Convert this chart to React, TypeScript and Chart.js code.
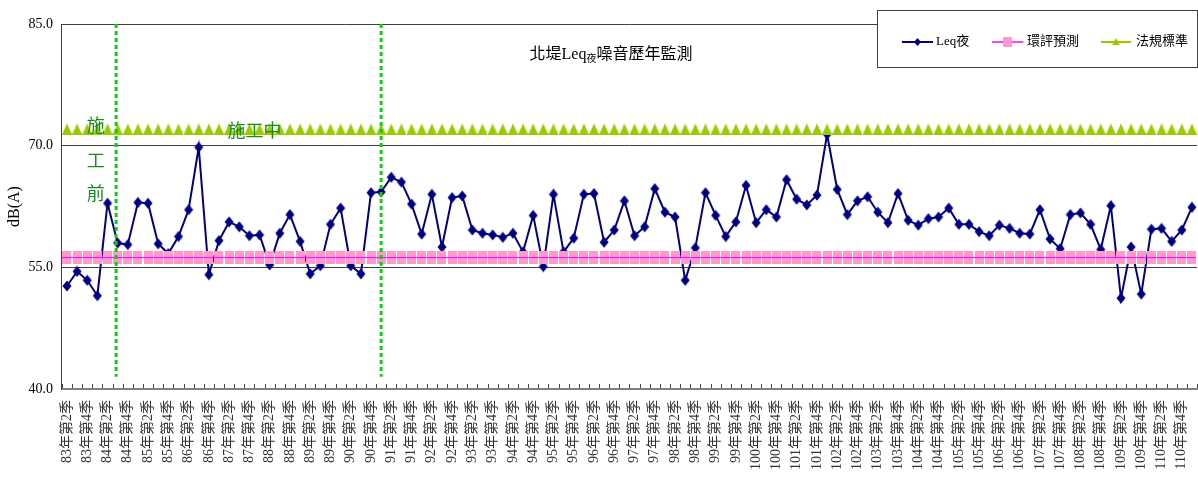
import React, { useEffect, useRef } from 'react';
import { Chart, registerables } from 'chart.js';

Chart.register(...registerables);

// ---------------- data ----------------
const categories: string[] = [
  '83年第2季', '83年第3季', '83年第4季',
  '84年第1季', '84年第2季', '84年第3季', '84年第4季',
  '85年第1季', '85年第2季', '85年第3季', '85年第4季',
  '86年第1季', '86年第2季', '86年第3季', '86年第4季',
  '87年第1季', '87年第2季', '87年第3季', '87年第4季',
  '88年第1季', '88年第2季', '88年第3季', '88年第4季',
  '89年第1季', '89年第2季', '89年第3季', '89年第4季',
  '90年第1季', '90年第2季', '90年第3季', '90年第4季',
  '91年第1季', '91年第2季', '91年第3季', '91年第4季',
  '92年第1季', '92年第2季', '92年第3季', '92年第4季',
  '93年第1季', '93年第2季', '93年第3季', '93年第4季',
  '94年第1季', '94年第2季', '94年第3季', '94年第4季',
  '95年第1季', '95年第2季', '95年第3季', '95年第4季',
  '96年第1季', '96年第2季', '96年第3季', '96年第4季',
  '97年第1季', '97年第2季', '97年第3季', '97年第4季',
  '98年第1季', '98年第2季', '98年第3季', '98年第4季',
  '99年第1季', '99年第2季', '99年第3季', '99年第4季',
  '100年第1季', '100年第2季', '100年第3季', '100年第4季',
  '101年第1季', '101年第2季', '101年第3季', '101年第4季',
  '102年第1季', '102年第2季', '102年第3季', '102年第4季',
  '103年第1季', '103年第2季', '103年第3季', '103年第4季',
  '104年第1季', '104年第2季', '104年第3季', '104年第4季',
  '105年第1季', '105年第2季', '105年第3季', '105年第4季',
  '106年第1季', '106年第2季', '106年第3季', '106年第4季',
  '107年第1季', '107年第2季', '107年第3季', '107年第4季',
  '108年第1季', '108年第2季', '108年第3季', '108年第4季',
  '109年第1季', '109年第2季', '109年第3季', '109年第4季',
  '110年第1季', '110年第2季', '110年第3季', '110年第4季',
  '111年第1季',
];

const leqNight: number[] = [
  52.7, 54.5, 53.4,
  51.5, 62.9, 58.0, 57.8,
  63.0, 62.9, 57.9, 56.7,
  58.8, 62.1, 69.8, 54.1,
  58.3, 60.6, 60.0, 58.9,
  59.0, 55.3, 59.2, 61.5,
  58.2, 54.2, 55.2, 60.3,
  62.3, 55.2, 54.2, 64.2,
  64.3, 66.1, 65.5, 62.8,
  59.1, 64.0, 57.5, 63.6,
  63.8, 59.6, 59.2, 59.0,
  58.7, 59.2, 56.9, 61.4,
  55.1, 64.0, 56.9, 58.6,
  64.0, 64.1, 58.1, 59.6,
  63.2, 58.9, 60.0, 64.7,
  61.8, 61.2, 53.4, 57.4,
  64.2, 61.4, 58.8, 60.6,
  65.1, 60.5, 62.1, 61.2,
  65.8, 63.4, 62.7, 63.9,
  71.4, 64.6, 61.5, 63.2,
  63.7, 61.8, 60.5, 64.1,
  60.8, 60.2, 61.0, 61.2,
  62.3, 60.3, 60.3, 59.4,
  58.9, 60.2, 59.8, 59.2,
  59.1, 62.1, 58.5, 57.3,
  61.5, 61.7, 60.3, 57.2,
  62.6, 51.2, 57.5, 51.7,
  59.7, 59.8, 58.2, 59.6,
  62.4,
];

const envPrediction: number[] = [
  56.2, 56.2, 56.2, 56.2, 56.2, 56.2, 56.2, 56.2, 56.2, 56.2, 56.2, 56.2, 56.2, 56.2,
  56.2, 56.2, 56.2, 56.2, 56.2, 56.2, 56.2, 56.2, 56.2, 56.2, 56.2, 56.2, 56.2, 56.2,
  56.2, 56.2, 56.2, 56.2, 56.2, 56.2, 56.2, 56.2, 56.2, 56.2, 56.2, 56.2, 56.2, 56.2,
  56.2, 56.2, 56.2, 56.2, 56.2, 56.2, 56.2, 56.2, 56.2, 56.2, 56.2, 56.2, 56.2, 56.2,
  56.2, 56.2, 56.2, 56.2, 56.2, 56.2, 56.2, 56.2, 56.2, 56.2, 56.2, 56.2, 56.2, 56.2,
  56.2, 56.2, 56.2, 56.2, 56.2, 56.2, 56.2, 56.2, 56.2, 56.2, 56.2, 56.2, 56.2, 56.2,
  56.2, 56.2, 56.2, 56.2, 56.2, 56.2, 56.2, 56.2, 56.2, 56.2, 56.2, 56.2, 56.2, 56.2,
  56.2, 56.2, 56.2, 56.2, 56.2, 56.2, 56.2, 56.2, 56.2, 56.2, 56.2, 56.2, 56.2, 56.2,
];

const regulatoryStandard: number[] = [
  72, 72, 72, 72, 72, 72, 72, 72, 72, 72, 72, 72, 72, 72,
  72, 72, 72, 72, 72, 72, 72, 72, 72, 72, 72, 72, 72, 72,
  72, 72, 72, 72, 72, 72, 72, 72, 72, 72, 72, 72, 72, 72,
  72, 72, 72, 72, 72, 72, 72, 72, 72, 72, 72, 72, 72, 72,
  72, 72, 72, 72, 72, 72, 72, 72, 72, 72, 72, 72, 72, 72,
  72, 72, 72, 72, 72, 72, 72, 72, 72, 72, 72, 72, 72, 72,
  72, 72, 72, 72, 72, 72, 72, 72, 72, 72, 72, 72, 72, 72,
  72, 72, 72, 72, 72, 72, 72, 72, 72, 72, 72, 72, 72, 72,
];

const yTickValues: number[] = [40, 55, 70, 85];

// construction-phase dividers, as category positions
const dividerPositions: number[] = [4.85, 31];

const seriesNames = ['Leq夜', '環評預測', '法規標準'];
const titleParts = ['北堤Leq', '夜', '噪音歷年監測'];
const yTitle = 'dB(A)';

// ---------------- styling ----------------
const NAVY = '#000080';
const PINK = '#FF99CC';
const MAGENTA = '#FF00FF';
const LIME = '#99CC00';
const DIVIDER_GREEN = '#11CC11';
const NOTE_GREEN = '#1A8A1A';
const FONT = "'Liberation Serif', 'Noto Sans CJK TC', serif";

function makeCanvas(w: number, h: number, draw: (c: CanvasRenderingContext2D) => void) {
  const cv = document.createElement('canvas');
  cv.width = w;
  cv.height = h;
  const c = cv.getContext('2d')!;
  draw(c);
  return cv;
}

const overlayPlugin = {
  id: 'overlay',
  afterDatasetsDraw(chart: any) {
    const { ctx, chartArea, scales } = chart;
    const x = scales.x;
    const y = scales.y;
    ctx.save();
    // inward category tick marks
    ctx.strokeStyle = '#404040';
    ctx.lineWidth = 1;
    ctx.beginPath();
    for (let i = 0; i <= categories.length; i++) {
      const px = Math.round(x.getPixelForValue(i - 0.5)) + 0.5;
      ctx.moveTo(px, chartArea.bottom - 1);
      ctx.lineTo(px, chartArea.bottom - 5);
    }
    ctx.stroke();
    // dotted dividers
    ctx.strokeStyle = DIVIDER_GREEN;
    ctx.lineWidth = 3;
    ctx.setLineDash([4, 3]);
    dividerPositions.forEach((p) => {
      const px = x.getPixelForValue(p);
      ctx.beginPath();
      ctx.moveTo(px, y.getPixelForValue(85));
      ctx.lineTo(px, y.getPixelForValue(41.5));
      ctx.stroke();
    });
    ctx.restore();
  },
  afterDraw(chart: any) {
    const { ctx, scales } = chart;
    const x = scales.x;
    const y = scales.y;
    ctx.save();

    // phase notes
    ctx.fillStyle = NOTE_GREEN;
    ctx.font = `18px ${FONT}`;
    ctx.textAlign = 'center';
    ctx.textBaseline = 'middle';
    const noteX = x.getPixelForValue(2.85);
    ctx.fillText('施', noteX, y.getPixelForValue(72.3));
    ctx.fillText('工', noteX, y.getPixelForValue(67.9));
    ctx.fillText('前', noteX, y.getPixelForValue(63.9));
    ctx.fillText('施工中', x.getPixelForValue(18.5), y.getPixelForValue(71.6));

    // title
    ctx.fillStyle = '#000';
    ctx.textAlign = 'left';
    ctx.textBaseline = 'alphabetic';
    const big = `16px ${FONT}`;
    const small = `10px ${FONT}`;
    ctx.font = big;
    const w1 = ctx.measureText(titleParts[0]).width;
    const w3 = ctx.measureText(titleParts[2]).width;
    ctx.font = small;
    const w2 = ctx.measureText(titleParts[1]).width;
    const total = w1 + w2 + w3;
    let tx = 611 - total / 2;
    const base = 59;
    ctx.font = big;
    ctx.fillText(titleParts[0], tx, base);
    tx += w1;
    ctx.font = small;
    ctx.fillText(titleParts[1], tx, base + 3);
    tx += w2;
    ctx.font = big;
    ctx.fillText(titleParts[2], tx, base);

    // legend box
    ctx.fillStyle = '#fff';
    ctx.fillRect(877, 10, 320, 58);
    ctx.strokeStyle = '#404040';
    ctx.lineWidth = 1;
    ctx.strokeRect(877.5, 10.5, 320, 57);
    const ly = 42;
    // Leq
    ctx.strokeStyle = NAVY;
    ctx.lineWidth = 2;
    ctx.beginPath();
    ctx.moveTo(902, ly);
    ctx.lineTo(933, ly);
    ctx.stroke();
    ctx.fillStyle = NAVY;
    ctx.beginPath();
    ctx.moveTo(917.5, ly - 4);
    ctx.lineTo(921, ly);
    ctx.lineTo(917.5, ly + 4);
    ctx.lineTo(914, ly);
    ctx.closePath();
    ctx.fill();
    // env prediction
    ctx.strokeStyle = MAGENTA;
    ctx.lineWidth = 1.5;
    ctx.beginPath();
    ctx.moveTo(992, ly);
    ctx.lineTo(1023, ly);
    ctx.stroke();
    ctx.fillStyle = PINK;
    ctx.fillRect(1003, ly - 5, 9, 10);
    // standard
    ctx.strokeStyle = LIME;
    ctx.lineWidth = 2;
    ctx.beginPath();
    ctx.moveTo(1101, ly);
    ctx.lineTo(1131, ly);
    ctx.stroke();
    ctx.fillStyle = LIME;
    ctx.beginPath();
    ctx.moveTo(1116, ly - 4);
    ctx.lineTo(1120, ly + 3);
    ctx.lineTo(1112, ly + 3);
    ctx.closePath();
    ctx.fill();
    // legend texts
    ctx.fillStyle = '#000';
    ctx.font = `13px ${FONT}`;
    ctx.textBaseline = 'middle';
    ctx.textAlign = 'left';
    ctx.fillText(seriesNames[0], 936, ly);
    ctx.fillText(seriesNames[1], 1027, ly);
    ctx.fillText(seriesNames[2], 1136, ly);

    ctx.restore();
  },
};

export default function App() {
  const ref = useRef<HTMLCanvasElement | null>(null);

  useEffect(() => {
    if (!ref.current) return;

    const diamond = makeCanvas(10, 12, (c) => {
      c.fillStyle = NAVY;
      c.beginPath();
      c.moveTo(5, 0.5);
      c.lineTo(9.5, 6);
      c.lineTo(5, 11.5);
      c.lineTo(0.5, 6);
      c.closePath();
      c.fill();
    });
    const square = makeCanvas(9, 13, (c) => {
      c.fillStyle = PINK;
      c.fillRect(0, 0, 9, 13);
      c.fillStyle = MAGENTA;
      c.fillRect(0, 6, 9, 1);
    });
    const triangle = makeCanvas(10, 12, (c) => {
      c.fillStyle = LIME;
      c.beginPath();
      c.moveTo(5, 0);
      c.lineTo(9.5, 10);
      c.lineTo(0.5, 10);
      c.closePath();
      c.fill();
      c.fillRect(0, 10, 10, 2);
    });

    const chart = new Chart(ref.current, {
      type: 'line',
      data: {
        labels: categories,
        datasets: [
          {
            label: seriesNames[0],
            data: leqNight,
            borderColor: NAVY,
            backgroundColor: NAVY,
            borderWidth: 2,
            pointStyle: diamond as any,
            pointRadius: 5,
            tension: 0,
            order: 3,
          },
          {
            label: seriesNames[1],
            data: envPrediction,
            borderColor: MAGENTA,
            backgroundColor: PINK,
            borderWidth: 1,
            pointStyle: square as any,
            pointRadius: 5,
            order: 2,
          },
          {
            label: seriesNames[2],
            data: regulatoryStandard,
            borderColor: LIME,
            backgroundColor: LIME,
            borderWidth: 0,
            showLine: false,
            pointStyle: triangle as any,
            pointRadius: 5,
            order: 1,
          },
        ],
      },
      options: {
        responsive: false,
        animation: false,
        events: [],
        layout: { padding: { top: 24, right: 3.3, left: 0, bottom: 0 } },
        plugins: {
          legend: { display: false },
          tooltip: { enabled: false },
          title: { display: false },
        },
        scales: {
          x: {
            type: 'category',
            offset: true,
            grid: { display: false, drawTicks: false },
            border: { display: true, color: '#7f7f7f', width: 2 },
            ticks: {
              autoSkip: false,
              minRotation: 90,
              maxRotation: 90,
              padding: 11,
              color: '#333',
              font: { family: FONT, size: 14 },
              callback: (_v: any, index: number) => (index % 2 === 0 ? categories[index] : ''),
            },
            afterFit: (scale: any) => {
              scale.height = 93;
              scale.paddingLeft = 0;
              scale.paddingRight = 0;
            },
          },
          y: {
            min: 40,
            max: 85,
            grid: { color: '#404040', lineWidth: 1, drawTicks: false },
            border: { display: true, color: '#404040', width: 1 },
            afterBuildTicks: (scale: any) => {
              scale.ticks = yTickValues.map((v) => ({ value: v }));
            },
            ticks: {
              padding: 9,
              color: '#000',
              font: { family: FONT, size: 14 },
              callback: (v: any) => Number(v).toFixed(1),
            },
            title: {
              display: true,
              text: yTitle,
              color: '#000',
              font: { family: FONT, size: 16 },
              padding: { top: 5, bottom: 0 },
            },
            afterFit: (scale: any) => {
              scale.width = 61.9;
            },
          },
        },
      },
      plugins: [overlayPlugin],
    } as any);

    return () => chart.destroy();
  }, []);

  return (
    <div
      style={{
        position: 'fixed',
        left: 0,
        top: 0,
        width: 1198,
        height: 482,
        overflow: 'hidden',
        background: '#fff',
      }}
    >
      <canvas ref={ref} width={1204} height={482} style={{ display: 'block', width: 1204, height: 482 }} />
    </div>
  );
}
